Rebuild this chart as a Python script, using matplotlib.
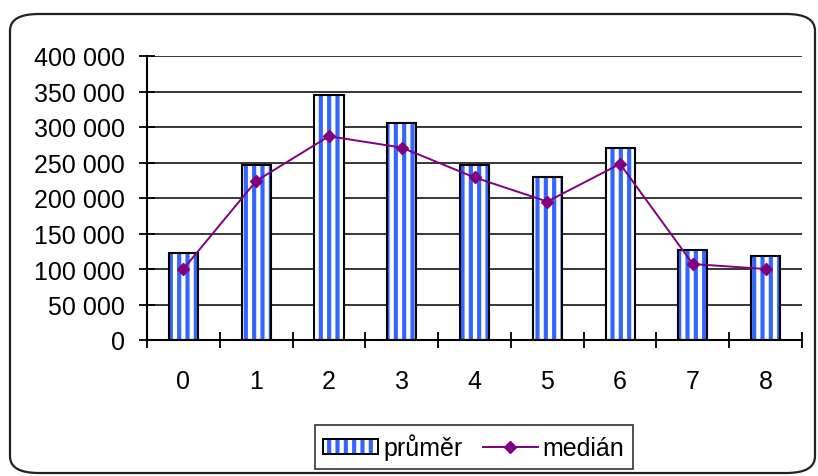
import numpy as np
import matplotlib
matplotlib.use("Agg")
import matplotlib.pyplot as plt
from matplotlib.patches import FancyBboxPatch, Patch
from matplotlib.lines import Line2D
from matplotlib.ticker import FuncFormatter, FixedLocator

plt.rcParams['font.family'] = ['Liberation Sans', 'DejaVu Sans']
plt.rcParams['hatch.linewidth'] = 3.0

# data
categories = ['0', '1', '2', '3', '4', '5', '6', '7', '8']
prumer = [122000, 247000, 345000, 305000, 247000, 229000, 271000, 127000, 119000]
median = [100000, 224000, 287000, 271000, 229000, 195000, 248000, 107000, 100000]
labels = ['průměr', 'medián']

blue = '#3366ff'
purple = '#800080'

fig = plt.figure(figsize=(8.18, 4.77), dpi=100)
fig.patch.set_facecolor('white')

# rounded frame around the whole chart
frame = FancyBboxPatch((10 / 818, 3 / 477), 805 / 818, 459 / 477,
                       boxstyle="round,pad=0,rounding_size=0.035",
                       transform=fig.transFigure, facecolor='none',
                       edgecolor='#222222', linewidth=1.6, zorder=0)
fig.patches.append(frame)

ax = fig.add_axes([147 / 818, (477 - 341) / 477, 655 / 818, 284 / 477])
x = np.arange(len(categories))

# striped fill first, then black outline on top
ax.bar(x, prumer, width=0.4, color='white', edgecolor=blue, hatch='||',
       linewidth=0, zorder=2)
ax.bar(x, prumer, width=0.4, color='none', edgecolor='black',
       linewidth=1.5, zorder=3)
ax.plot(x, median, color=purple, linewidth=1.4, marker='D', markersize=6,
        zorder=4)

ax.set_xlim(-0.5, len(categories) - 0.5)
ax.set_ylim(0, 400000)
ax.set_yticks(np.arange(0, 400001, 50000))
ax.yaxis.set_major_formatter(FuncFormatter(lambda v, p: f"{int(v):,}".replace(',', ' ')))
ax.grid(axis='y', color='black', linewidth=1.1, zorder=1)
ax.set_axisbelow(True)

ax.set_xticks(x)
ax.set_xticklabels(categories)
ax.xaxis.set_minor_locator(FixedLocator(np.arange(-0.5, len(categories), 1.0)))
ax.tick_params(axis='x', which='major', length=0, pad=21, labelsize=18)
ax.tick_params(axis='x', which='minor', direction='inout', length=11, width=1.3)
ax.tick_params(axis='y', direction='inout', length=11.5, width=1.3, pad=10,
               labelsize=18)

for s in ['top', 'right']:
    ax.spines[s].set_visible(False)
for s in ['left', 'bottom']:
    ax.spines[s].set_linewidth(1.5)
ax.patch.set_alpha(0)

# legend handles: striped box with black outline, purple line with diamond
h1_fill = Patch(facecolor='white', edgecolor=blue, hatch='||', linewidth=0)
h1_edge = Patch(facecolor='none', edgecolor='black', linewidth=1.4)
h2 = Line2D([], [], color=purple, linewidth=1.4, marker='D', markersize=6)
leg = fig.legend([(h1_fill, h1_edge), h2], labels, loc='center',
                 bbox_to_anchor=(474 / 818, (477 - 448) / 477), ncol=2,
                 frameon=True, fancybox=False, edgecolor='black',
                 fontsize=18, handlelength=2.2, handleheight=0.5,
                 handletextpad=0.2, columnspacing=0.8, borderpad=0.35,
                 borderaxespad=0)
leg.get_frame().set_linewidth(1.2)

fig.savefig('out.png', dpi=100, facecolor='white')
